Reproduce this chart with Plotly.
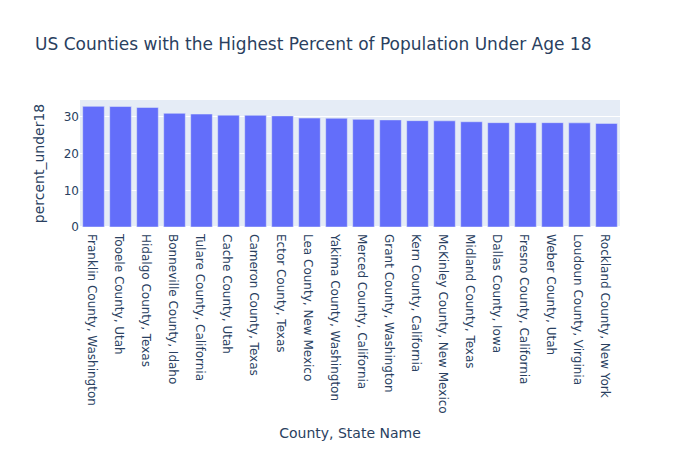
import plotly.graph_objects as go

counties = [
    "Franklin County, Washington", "Tooele County, Utah", "Hidalgo County, Texas",
    "Bonneville County, Idaho", "Tulare County, California", "Cache County, Utah",
    "Cameron County, Texas", "Ector County, Texas", "Lea County, New Mexico",
    "Yakima County, Washington", "Merced County, California", "Grant County, Washington",
    "Kern County, California", "McKinley County, New Mexico", "Midland County, Texas",
    "Dallas County, Iowa", "Fresno County, California", "Weber County, Utah",
    "Loudoun County, Virginia", "Rockland County, New York",
]
percent_under18 = [
    32.9, 32.85, 32.6, 31.0, 30.8, 30.5, 30.45, 30.3, 29.7, 29.65,
    29.35, 29.2, 29.0, 28.95, 28.7, 28.45, 28.45, 28.45, 28.4, 28.25,
]

fig = go.Figure(go.Bar(x=counties, y=percent_under18))
fig.update_layout(
    width=700, height=450,
    font=dict(family="DejaVu Sans"),
    title=dict(text="US Counties with the Highest Percent of Population Under Age 18"),
    xaxis_title="County, State Name",
    yaxis_title="percent_under18",
)
fig.write_html("out.html")
